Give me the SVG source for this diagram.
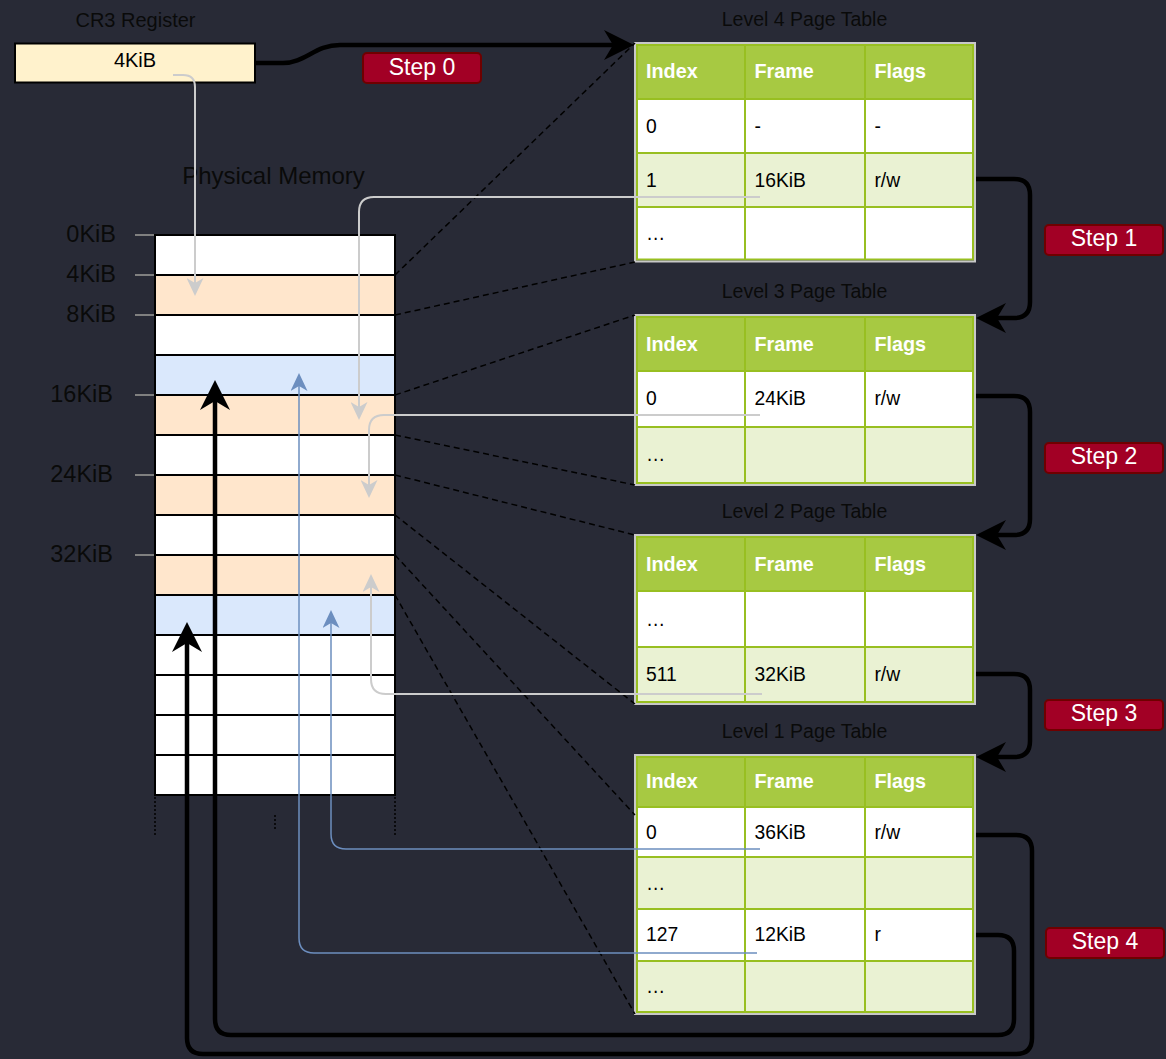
<svg xmlns="http://www.w3.org/2000/svg" width="1166" height="1059" viewBox="0 0 1166 1059">
<style>
text{font-family:"Liberation Sans",Arial,Helvetica,sans-serif}
.lbl{font-size:19.5px;fill:#0a0a0a;text-anchor:middle}
.mem{font-size:23.5px;fill:#0a0a0a;text-anchor:end}
.hd{font-size:19.8px;font-weight:bold;fill:#fff}
.c{font-size:19.3px;fill:#000}
.step rect{fill:#a20025;stroke:#6f0000;stroke-width:2}
.step text{fill:#fff;font-size:23px;text-anchor:middle}
.rh{fill:#a7c942;stroke:#98bf21;stroke-width:2}
.rw{fill:#fff;stroke:#98bf21;stroke-width:2}
.rg{fill:#eaf2d3;stroke:#98bf21;stroke-width:2}
.grid{stroke:#98bf21;stroke-width:2}
.frame{fill:none;stroke:#c8c8c8;stroke-width:2}
.mw,.mo,.mb{stroke:#000;stroke-width:2}
.mw{fill:#fff}.mo{fill:#ffe6cc}.mb{fill:#dae8fc}
.tick{stroke:#808080;stroke-width:2}
.thick{fill:none;stroke:#000;stroke-width:4.5}
.gray{fill:none;stroke:#cccccc;stroke-width:2}
.blue{fill:none;stroke:#6c8ebf;stroke-width:1.5}
.dash{fill:none;stroke:#000;stroke-width:1.5;stroke-dasharray:6 4}
.dot{stroke:#000;stroke-width:1.5;stroke-dasharray:2 2}
</style>
<defs>
<marker id="ab" viewBox="0 0 30 30" refX="20" refY="15" markerWidth="30" markerHeight="30" markerUnits="userSpaceOnUse" orient="auto"><path d="M0,0 L30,15 L0,30 L9,15 Z" fill="#000"/></marker>
<marker id="ag" viewBox="0 0 18 17" refX="14" refY="8.5" markerWidth="18" markerHeight="17" markerUnits="userSpaceOnUse" orient="auto"><path d="M0,0 L18,8.5 L0,17 L5,8.5 Z" fill="#cccccc"/></marker>
<marker id="al" viewBox="0 0 18 17" refX="14" refY="8.5" markerWidth="18" markerHeight="17" markerUnits="userSpaceOnUse" orient="auto"><path d="M0,0 L18,8.5 L0,17 L5,8.5 Z" fill="#6c8ebf"/></marker>
</defs>
<rect x="0" y="0" width="1166" height="1059" fill="#282a36"/>

<g id="cr3">
<text class="lbl" x="135.5" y="26.7" style="font-size:20px">CR3 Register</text>
<rect x="15" y="43.5" width="240" height="39" fill="#fff2cc" stroke="#000" stroke-width="2"/>
<text x="135" y="66.7" style="font-size:20px;text-anchor:middle" fill="#000">4KiB</text>
</g>

<g id="physical-memory">
<text x="273.5" y="184" style="font-size:24px;text-anchor:middle" fill="#0a0a0a">Physical Memory</text>
<line class="tick" x1="135" y1="235" x2="155" y2="235"/>
<line class="tick" x1="135" y1="275" x2="155" y2="275"/>
<line class="tick" x1="135" y1="315" x2="155" y2="315"/>
<line class="tick" x1="135" y1="395" x2="155" y2="395"/>
<line class="tick" x1="135" y1="475" x2="155" y2="475"/>
<line class="tick" x1="135" y1="555" x2="155" y2="555"/>
<text class="mem" x="116" y="241.7">0KiB</text>
<text class="mem" x="116" y="281.7">4KiB</text>
<text class="mem" x="116" y="321.7">8KiB</text>
<text class="mem" x="113" y="401.7">16KiB</text>
<text class="mem" x="113" y="481.7">24KiB</text>
<text class="mem" x="113" y="561.7">32KiB</text>
<rect class="mw" x="155" y="235" width="240" height="40"/>
<rect class="mo" x="155" y="275" width="240" height="40"/>
<rect class="mw" x="155" y="315" width="240" height="40"/>
<rect class="mb" x="155" y="355" width="240" height="40"/>
<rect class="mo" x="155" y="395" width="240" height="40"/>
<rect class="mw" x="155" y="435" width="240" height="40"/>
<rect class="mo" x="155" y="475" width="240" height="40"/>
<rect class="mw" x="155" y="515" width="240" height="40"/>
<rect class="mo" x="155" y="555" width="240" height="40"/>
<rect class="mb" x="155" y="595" width="240" height="40"/>
<rect class="mw" x="155" y="635" width="240" height="40"/>
<rect class="mw" x="155" y="675" width="240" height="40"/>
<rect class="mw" x="155" y="715" width="240" height="40"/>
<rect class="mw" x="155" y="755" width="240" height="40"/>
<line class="dot" x1="155" y1="797" x2="155" y2="835"/>
<line class="dot" x1="275" y1="815" x2="275" y2="830"/>
<line class="dot" x1="395" y1="797" x2="395" y2="835"/>
</g>

<g id="l4-table">
<text class="lbl" x="804.5" y="26">Level 4 Page Table</text>
<rect class="rh" x="637" y="45" width="336" height="54"/>
<rect class="rw" x="637" y="99" width="336" height="54"/>
<rect class="rg" x="637" y="153" width="336" height="54"/>
<rect class="rw" x="637" y="207" width="336" height="52.5"/>
<line class="grid" x1="745" y1="45" x2="745" y2="259.5"/>
<line class="grid" x1="865" y1="45" x2="865" y2="259.5"/>
<rect class="frame" x="635" y="43" width="340" height="218.5"/>
<text class="hd" x="646" y="77.8">Index</text><text class="hd" x="754.5" y="77.8">Frame</text><text class="hd" x="874.4" y="77.8">Flags</text>
<text class="c" x="646" y="132.8">0</text><text class="c" x="754.5" y="132.8">-</text><text class="c" x="874.4" y="132.8">-</text>
<text class="c" x="646" y="186.8">1</text><text class="c" x="754.5" y="186.8">16KiB</text><text class="c" x="874.4" y="186.8">r/w</text>
<text class="c" x="646" y="240">…</text>
</g>

<g id="l3-table">
<text class="lbl" x="804.5" y="297.7">Level 3 Page Table</text>
<rect class="rh" x="637" y="317" width="336" height="54"/>
<rect class="rw" x="637" y="371" width="336" height="56"/>
<rect class="rg" x="637" y="427" width="336" height="56"/>
<line class="grid" x1="745" y1="317" x2="745" y2="483"/>
<line class="grid" x1="865" y1="317" x2="865" y2="483"/>
<rect class="frame" x="635" y="315" width="340" height="170"/>
<text class="hd" x="646" y="350.8">Index</text><text class="hd" x="754.5" y="350.8">Frame</text><text class="hd" x="874.4" y="350.8">Flags</text>
<text class="c" x="646" y="405">0</text><text class="c" x="754.5" y="405">24KiB</text><text class="c" x="874.4" y="405">r/w</text>
<text class="c" x="646" y="461">…</text>
</g>

<g id="l2-table">
<text class="lbl" x="804.5" y="517.7">Level 2 Page Table</text>
<rect class="rh" x="637" y="537" width="336" height="54"/>
<rect class="rw" x="637" y="591" width="336" height="56"/>
<rect class="rg" x="637" y="647" width="336" height="55"/>
<line class="grid" x1="745" y1="537" x2="745" y2="702"/>
<line class="grid" x1="865" y1="537" x2="865" y2="702"/>
<rect class="frame" x="635" y="535" width="340" height="169"/>
<text class="hd" x="646" y="570.8">Index</text><text class="hd" x="754.5" y="570.8">Frame</text><text class="hd" x="874.4" y="570.8">Flags</text>
<text class="c" x="646" y="625.8">…</text>
<text class="c" x="646" y="681">511</text><text class="c" x="754.5" y="681">32KiB</text><text class="c" x="874.4" y="681">r/w</text>
</g>

<g id="l1-table">
<text class="lbl" x="804.5" y="737.7">Level 1 Page Table</text>
<rect class="rh" x="637" y="757" width="336" height="50"/>
<rect class="rw" x="637" y="807" width="336" height="50"/>
<rect class="rg" x="637" y="857" width="336" height="52"/>
<rect class="rw" x="637" y="909" width="336" height="52"/>
<rect class="rg" x="637" y="961" width="336" height="51"/>
<line class="grid" x1="745" y1="757" x2="745" y2="1012"/>
<line class="grid" x1="865" y1="757" x2="865" y2="1012"/>
<rect class="frame" x="635" y="755" width="340" height="259"/>
<text class="hd" x="646" y="788.3">Index</text><text class="hd" x="754.5" y="788.3">Frame</text><text class="hd" x="874.4" y="788.3">Flags</text>
<text class="c" x="646" y="838.5">0</text><text class="c" x="754.5" y="838.5">36KiB</text><text class="c" x="874.4" y="838.5">r/w</text>
<text class="c" x="646" y="889.8">…</text>
<text class="c" x="646" y="941">127</text><text class="c" x="754.5" y="941">12KiB</text><text class="c" x="874.4" y="941">r</text>
<text class="c" x="646" y="993.3">…</text>
</g>

<g id="step0" class="step"><rect x="363" y="53" width="118" height="30" rx="4"/><text x="422" y="74.5">Step 0</text></g>
<g id="step1" class="step"><rect x="1045" y="225" width="118" height="30" rx="4"/><text x="1104" y="246">Step 1</text></g>
<g id="step2" class="step"><rect x="1045" y="443" width="118" height="30" rx="4"/><text x="1104" y="463.5">Step 2</text></g>
<g id="step3" class="step"><rect x="1045" y="700" width="118" height="30" rx="4"/><text x="1104" y="721">Step 3</text></g>
<g id="step4" class="step"><rect x="1046" y="928" width="118" height="30" rx="4"/><text x="1105" y="949.3">Step 4</text></g>

<g id="connectors">
<path class="dash" d="M395,275 L635,43"/>
<path class="dash" d="M395,315 L635,262"/>
<path class="dash" d="M395,395 L635,315"/>
<path class="dash" d="M395,435 L635,485"/>
<path class="dash" d="M395,475 L635,535"/>
<path class="dash" d="M395,515 L635,704"/>
<path class="dash" d="M395,555 L635,815"/>
<path class="dash" d="M395,595 L635,1014"/>

<path class="gray" marker-end="url(#ag)" d="M173,75 L183,75 Q195,75 195,87 L195,292"/>
<path class="gray" marker-end="url(#ag)" d="M760,197 L374,197 Q359,197 359,212 L359,416"/>
<path class="gray" marker-end="url(#ag)" d="M760,415 L384,415 Q369,415 369,430 L369,494"/>
<path class="gray" marker-end="url(#ag)" d="M762,694 L386,694 Q371,694 371,679 L371,578"/>

<path class="blue" marker-end="url(#al)" d="M760,849 L346,849 Q331,849 331,834 L331,614"/>
<path class="blue" marker-end="url(#al)" d="M757,953 L314,953 Q299,953 299,938 L299,377"/>

<path class="thick" marker-end="url(#ab)" d="M256,63 L283,63 C305,63 315,45 340,45 L624,45"/>
<path class="thick" marker-end="url(#ab)" d="M976,179 L1014,179 Q1030,179 1030,195 L1030,302 Q1030,318 1014,318 L986,318"/>
<path class="thick" marker-end="url(#ab)" d="M976,396 L1014,396 Q1030,396 1030,412 L1030,519 Q1030,535 1014,535 L986,535"/>
<path class="thick" marker-end="url(#ab)" d="M976,674 L1014,674 Q1030,674 1030,690 L1030,741 Q1030,757 1014,757 L986,757"/>
<path class="thick" marker-end="url(#ab)" d="M976,835 L1016,835 Q1032,835 1032,851 L1032,1038 Q1032,1054 1016,1054 L203,1054 Q187,1054 187,1038 L187,632"/>
<path class="thick" marker-end="url(#ab)" d="M976,935 L998,935 Q1014,935 1014,951 L1014,1019 Q1014,1035 998,1035 L231,1035 Q215,1035 215,1019 L215,390"/>
</g>
</svg>
